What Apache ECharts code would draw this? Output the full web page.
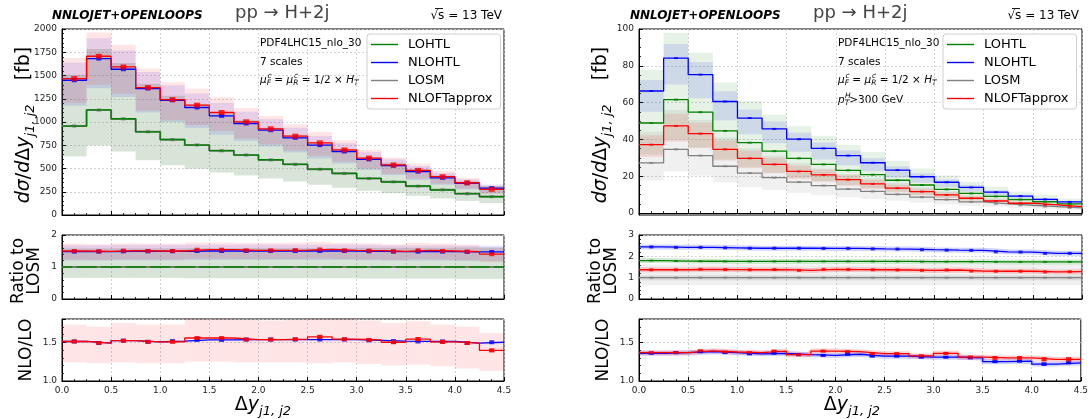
<!DOCTYPE html>
<html><head><meta charset="utf-8">
<script src="https://cdn.jsdelivr.net/npm/echarts@6/dist/echarts.min.js"></script>
<style>html,body{margin:0;padding:0;background:#fff}#c{width:1091px;height:419px}</style>
</head><body><div id="c"></div>
<script>
// ---------------- data ----------------
const binEdges = [0,0.25,0.5,0.75,1.0,1.25,1.5,1.75,2.0,2.25,2.5,2.75,3.0,3.25,3.5,3.75,4.0,4.25,4.5];
const xTickLabels = ['0.0','0.5','1.0','1.5','2.0','2.5','3.0','3.5','4.0','4.5'];
const seriesNames = ['LOHTL','NLOHTL','LOSM','NLOFTapprox'];

// Left panel (inclusive), dsigma/dDy [fb]
const L_LOHTL      = [955,1130,1035,893,812,752,692,644,594,544,494,446,394,355,312,269,230,196];
const L_LOSM       = [958,1128,1033,895,810,754,690,646,592,546,492,448,392,357,310,271,228,198];
const L_NLOHTL     = [1449,1682,1567,1360,1234,1156,1066,984,912,830,751,683,598,530,466,400,341,290];
const L_NLOFT      = [1467,1707,1592,1370,1241,1181,1102,1002,927,848,776,700,612,538,480,412,347,276];
const L_LO_low     = [630,746,683,589,536,496,457,425,392,359,326,294,260,234,206,178,152,129];
const L_LO_high    = [1509,1785,1635,1411,1283,1188,1093,1018,939,860,781,705,623,561,493,425,363,310];
const L_NLOHTL_low = [1174,1362,1269,1102,1000,936,863,797,739,672,608,553,484,429,377,324,276,235];
const L_NLOHTL_high= [1637,1901,1771,1537,1394,1306,1205,1112,1031,938,849,772,676,599,527,452,385,328];
const L_NLOFT_low  = [1203,1400,1305,1123,1018,968,904,822,760,695,636,574,502,441,394,338,285,226];
const L_NLOFT_high = [1687,1963,1831,1576,1427,1358,1267,1152,1066,975,892,805,704,619,552,474,399,317];
// Left ratio to LOSM
const L_r_LOHTL  = [1,1,1,1,1,1,1,1,1,1,1,1,1,1,1,1,1,1];
const L_r_LOSM   = [1,1,1,1,1,1,1,1,1,1,1,1,1,1,1,1,1,1];
const L_r_NLOHTL = [1.48,1.48,1.49,1.49,1.49,1.50,1.50,1.50,1.50,1.50,1.50,1.50,1.49,1.48,1.48,1.48,1.47,1.47];
const L_r_NLOFT  = [1.50,1.49,1.51,1.50,1.50,1.54,1.54,1.52,1.52,1.53,1.55,1.52,1.51,1.49,1.52,1.50,1.48,1.40];
const L_r_LO_low     = [0.66,0.66,0.66,0.66,0.66,0.65,0.65,0.65,0.65,0.65,0.65,0.65,0.64,0.64,0.64,0.64,0.63,0.63];
const L_r_LO_high    = [1.58,1.58,1.58,1.58,1.58,1.59,1.59,1.59,1.59,1.59,1.59,1.59,1.60,1.60,1.60,1.60,1.61,1.61];
const L_r_NLOHTL_low = [1.20,1.20,1.21,1.21,1.21,1.22,1.22,1.22,1.22,1.22,1.22,1.22,1.21,1.20,1.20,1.20,1.19,1.19];
const L_r_NLOHTL_high= [1.68,1.68,1.69,1.69,1.69,1.70,1.70,1.70,1.70,1.70,1.70,1.70,1.69,1.68,1.68,1.68,1.67,1.67];
const L_r_NLOFT_low  = [1.23,1.22,1.24,1.23,1.23,1.26,1.26,1.25,1.25,1.25,1.27,1.25,1.24,1.22,1.25,1.23,1.21,1.15];
const L_r_NLOFT_high = [1.73,1.71,1.74,1.73,1.73,1.77,1.77,1.75,1.75,1.76,1.78,1.75,1.74,1.71,1.75,1.73,1.70,1.61];
// Left NLO/LO
const L_k_NLOHTL = [1.51,1.49,1.52,1.505,1.515,1.53,1.53,1.535,1.535,1.535,1.535,1.535,1.525,1.515,1.51,1.51,1.49,1.50];
const L_k_NLOFT  = [1.51,1.49,1.52,1.505,1.505,1.555,1.555,1.535,1.535,1.54,1.57,1.54,1.53,1.50,1.54,1.505,1.49,1.395];
const L_k_NLOFT_err  = [0.006,0.005,0.006,0.005,0.008,0.008,0.008,0.006,0.006,0.006,0.014,0.006,0.008,0.016,0.02,0.018,0.016,0.016];
const L_k_band_low   = [1.24,1.23,1.24,1.23,1.23,1.25,1.25,1.24,1.24,1.24,1.23,1.24,1.22,1.20,1.21,1.19,1.16,1.13];
const L_k_band_high  = [1.73,1.70,1.75,1.73,1.73,1.80,1.80,1.79,1.78,1.79,1.80,1.80,1.78,1.75,1.77,1.73,1.70,1.62];

// Right panel (pT^H > 300 GeV)
const R_LOHTL      = [48.9,61.6,54.8,44.6,38.2,33.6,29.7,26.4,23.2,20.8,17.8,15.2,12.8,10.6,9.0,7.3,6.1,4.9];
const R_LOSM       = [27.2,34.6,31.2,25.4,21.7,19.2,16.8,14.9,13.0,11.7,10.1,8.6,7.3,6.0,5.0,4.2,3.5,2.8];
const R_NLOHTL     = [66.3,84.2,75.2,60.6,51.6,45.7,40.1,35.1,31.2,27.3,23.3,19.7,16.7,13.9,11.3,9.2,7.4,6.0];
const R_NLOFT      = [37.1,47.3,43.1,34.6,29.7,26.4,22.6,20.7,18.1,15.8,13.5,11.6,9.8,8.0,6.5,5.3,4.4,3.5];
const R_LOHTL_low  = [31.8,40.0,35.6,29.0,24.8,21.8,19.3,17.2,15.1,13.5,11.6,9.9,8.3,6.9,5.9,4.7,4.0,3.2];
const R_LOHTL_high = [77.8,97.9,87.1,70.9,60.7,53.4,47.2,42.0,36.9,33.1,28.3,24.2,20.4,16.9,14.3,11.6,9.7,7.8];
const R_LOSM_low   = [17.7,22.5,20.3,16.5,14.1,12.5,10.9,9.7,8.5,7.6,6.6,5.6,4.7,3.9,3.3,2.7,2.3,1.8];
const R_LOSM_high  = [44.1,56.1,50.5,41.1,35.2,31.1,27.2,24.1,21.1,19.0,16.4,13.9,11.8,9.7,8.1,6.8,5.7,4.5];
const R_NLOHTL_low = [55.0,69.9,62.4,50.3,42.8,37.9,33.3,29.1,25.9,22.7,19.3,16.4,13.9,11.5,9.4,7.6,6.1,5.0];
const R_NLOHTL_high= [72.3,91.8,82.0,66.1,56.2,49.8,43.7,38.3,34.0,29.8,25.4,21.5,18.2,15.2,12.3,10.0,8.1,6.5];
const R_NLOFT_low  = [30.4,38.8,35.3,28.4,24.4,21.6,18.5,17.0,14.8,13.0,11.1,9.5,8.0,6.6,5.3,4.3,3.6,2.9];
const R_NLOFT_high = [42.3,53.9,49.1,39.4,33.9,30.1,25.8,23.6,20.6,18.0,15.4,13.2,11.2,9.1,7.4,6.0,5.0,4.0];
// Right ratio to LOSM
const R_r_LOHTL  = [1.80,1.78,1.77,1.76,1.76,1.76,1.76,1.76,1.76,1.76,1.76,1.75,1.75,1.75,1.74,1.74,1.74,1.74];
const R_r_LOSM   = [1,1,1,1,1,1,1,1,1,1,1,1,1,1,1,1,1,1];
const R_r_NLOHTL = [2.44,2.42,2.42,2.40,2.38,2.38,2.38,2.37,2.37,2.35,2.34,2.31,2.29,2.28,2.21,2.20,2.14,2.14];
const R_r_NLOFT  = [1.37,1.37,1.39,1.38,1.37,1.38,1.34,1.39,1.38,1.37,1.36,1.34,1.36,1.31,1.30,1.30,1.27,1.28];
const R_r_LOSM_low  = [0.64,0.64,0.64,0.64,0.64,0.64,0.64,0.64,0.64,0.64,0.64,0.64,0.64,0.64,0.64,0.64,0.64,0.64];
const R_r_LOSM_high = [1.62,1.62,1.62,1.62,1.62,1.62,1.62,1.62,1.62,1.62,1.62,1.62,1.62,1.62,1.62,1.62,1.62,1.62];
// Right NLO/LO
const R_k_NLOHTL = [1.357,1.366,1.378,1.366,1.35,1.357,1.34,1.33,1.345,1.32,1.32,1.307,1.307,1.298,1.25,1.256,1.218,1.235];
const R_k_NLOFT  = [1.366,1.366,1.39,1.374,1.366,1.386,1.34,1.386,1.378,1.353,1.353,1.324,1.357,1.307,1.298,1.298,1.28,1.28];
const R_k_NLOFT_err  = [0.006,0.005,0.006,0.006,0.006,0.006,0.006,0.008,0.008,0.01,0.008,0.01,0.01,0.012,0.016,0.016,0.02,0.02];
const R_k_NLOHTL_err = [0.004,0.004,0.004,0.004,0.004,0.004,0.005,0.005,0.005,0.005,0.006,0.006,0.006,0.007,0.008,0.008,0.014,0.01];

// ---------------- styling ----------------
const FONT = 'DejaVu Sans';
const C = {green:'#008000', blue:'#0000ff', gray:'#808080', red:'#ff0000'};
const BAND = {green:'rgba(0,128,0,0.10)', blue:'rgba(0,0,255,0.10)', gray:'rgba(128,128,128,0.12)', red:'rgba(255,0,0,0.10)'};
const centers = binEdges.slice(0,-1).map((e,i)=>(e+binEdges[i+1])/2);

function stepPts(v){ const p=v.map((y,i)=>[binEdges[i],y]); p.push([binEdges[binEdges.length-1], v[v.length-1]]); return p; }

const series = [];
function addLine(g, name, vals, color, z, width){
  series.push({type:'line', name:name, xAxisIndex:g, yAxisIndex:g, data:stepPts(vals), step:'end',
    symbol:'none', showSymbol:false, lineStyle:{color:color,width:width||1.3}, itemStyle:{color:color},
    z:z, silent:true, animation:false, clip:true});
}
function addHalo(g, vals, color){
  series.push({type:'line', name:'halo'+series.length, xAxisIndex:g, yAxisIndex:g, data:stepPts(vals), step:'end',
    symbol:'none', lineStyle:{color:color,width:5,opacity:0.18}, z:2, silent:true, animation:false});
}
function addMarks(g, vals, color, w, h){
  series.push({type:'scatter', name:'m'+series.length, xAxisIndex:g, yAxisIndex:g,
    data:vals.map((v,i)=>[centers[i],v]), symbol:'rect', symbolSize:[w||5,h||3],
    itemStyle:{color:color}, z:5, silent:true, animation:false});
}
function addBand(g, low, high, fill){
  series.push({type:'custom', name:'b'+series.length, xAxisIndex:g, yAxisIndex:g,
    data:low.map((l,i)=>[binEdges[i],binEdges[i+1],l,high[i]]),
    encode:{x:[0,1],y:[2,3]}, z:1, silent:true, animation:false,
    renderItem:function(params, api){
      const a=api.coord([api.value(0), api.value(3)]);
      const b=api.coord([api.value(1), api.value(2)]);
      const cs=params.coordSys;
      let x0=Math.max(Math.min(a[0],b[0]),cs.x), x1=Math.min(Math.max(a[0],b[0]),cs.x+cs.width);
      let y0=Math.max(Math.min(a[1],b[1]),cs.y), y1=Math.min(Math.max(a[1],b[1]),cs.y+cs.height);
      if(x1<=x0||y1<=y0) return null;
      return {type:'rect', shape:{x:x0,y:y0,width:x1-x0,height:y1-y0}, style:{fill:fill}};
    }});
}
function addErr(g, vals, errs, color){
  series.push({type:'custom', name:'e'+series.length, xAxisIndex:g, yAxisIndex:g,
    data:vals.map((v,i)=>[centers[i], v-errs[i], v+errs[i]]),
    encode:{x:0,y:[1,2]}, z:6, silent:true, animation:false,
    renderItem:function(params, api){
      const lo=api.coord([api.value(0), api.value(1)]);
      const hi=api.coord([api.value(0), api.value(2)]);
      const st={stroke:color, lineWidth:1};
      return {type:'group', children:[
        {type:'line', shape:{x1:lo[0],y1:lo[1],x2:hi[0],y2:hi[1]}, style:st},
        {type:'line', shape:{x1:lo[0]-2.5,y1:lo[1],x2:lo[0]+2.5,y2:lo[1]}, style:st},
        {type:'line', shape:{x1:hi[0]-2.5,y1:hi[1],x2:hi[0]+2.5,y2:hi[1]}, style:st}
      ]};
    }});
}

// ---- Left top (grid 0)
addBand(0, L_LO_low, L_LO_high, BAND.gray);
addBand(0, L_LO_low, L_LO_high, BAND.green);
addBand(0, L_NLOHTL_low, L_NLOHTL_high, BAND.blue);
addBand(0, L_NLOFT_low, L_NLOFT_high, BAND.red);
addLine(0, 'LOSM', L_LOSM, C.gray, 3, 2);
addLine(0, 'LOHTL', L_LOHTL, C.green, 3);
addLine(0, 'NLOHTL', L_NLOHTL, C.blue, 3);
addLine(0, 'NLOFTapprox', L_NLOFT, C.red, 4);
addMarks(0, L_LOSM, C.gray, 5, 3); addMarks(0, L_LOHTL, C.green, 4, 2);
addMarks(0, L_NLOHTL, C.blue, 5, 4); addMarks(0, L_NLOFT, C.red, 6, 5);
// ---- Left ratio (grid 1)
addBand(1, L_r_LO_low, L_r_LO_high, BAND.gray);
addBand(1, L_r_LO_low, L_r_LO_high, BAND.green);
addBand(1, L_r_NLOHTL_low, L_r_NLOHTL_high, BAND.blue);
addBand(1, L_r_NLOFT_low, L_r_NLOFT_high, BAND.red);
addLine(1, 'LOSM_r', L_r_LOSM, C.gray, 3, 2);
addLine(1, 'LOHTL_r', L_r_LOHTL, C.green, 3);
addLine(1, 'NLOHTL_r', L_r_NLOHTL, C.blue, 3);
addLine(1, 'NLOFT_r', L_r_NLOFT, C.red, 4);
addMarks(1, L_r_NLOHTL, C.blue, 5, 4); addMarks(1, L_r_NLOFT, C.red, 5, 4);
addMarks(1, L_r_LOSM, C.gray, 4, 2);
// ---- Left NLO/LO (grid 2)
addBand(2, L_k_band_low, L_k_band_high, BAND.red);
addLine(2, 'NLOHTL_k', L_k_NLOHTL, C.blue, 3);
addLine(2, 'NLOFT_k', L_k_NLOFT, C.red, 4);
addMarks(2, L_k_NLOHTL, C.blue, 5, 4); addMarks(2, L_k_NLOFT, C.red, 5, 4);
addErr(2, L_k_NLOFT, L_k_NLOFT_err, C.red);
// ---- Right top (grid 3)
addBand(3, R_LOSM_low, R_LOSM_high, BAND.gray);
addBand(3, R_LOHTL_low, R_LOHTL_high, BAND.green);
addBand(3, R_NLOHTL_low, R_NLOHTL_high, BAND.blue);
addBand(3, R_NLOFT_low, R_NLOFT_high, BAND.red);
addLine(3, 'LOSM_R', R_LOSM, C.gray, 3);
addLine(3, 'LOHTL_R', R_LOHTL, C.green, 3);
addLine(3, 'NLOHTL_R', R_NLOHTL, C.blue, 3);
addLine(3, 'NLOFT_R', R_NLOFT, C.red, 4);
addMarks(3, R_LOSM, C.gray, 4, 2); addMarks(3, R_LOHTL, C.green, 4, 2);
addMarks(3, R_NLOHTL, C.blue, 4, 2); addMarks(3, R_NLOFT, C.red, 4, 2);
// ---- Right ratio (grid 4)
addBand(4, R_r_LOSM_low, R_r_LOSM_high, BAND.gray);
addHalo(4, R_r_LOHTL, C.green); addHalo(4, R_r_NLOHTL, C.blue); addHalo(4, R_r_NLOFT, C.red); addHalo(4, R_r_LOSM, C.gray);
addLine(4, 'LOSM_Rr', R_r_LOSM, C.gray, 3);
addLine(4, 'LOHTL_Rr', R_r_LOHTL, C.green, 3);
addLine(4, 'NLOHTL_Rr', R_r_NLOHTL, C.blue, 3);
addLine(4, 'NLOFT_Rr', R_r_NLOFT, C.red, 4);
addMarks(4, R_r_LOSM, C.gray, 4, 2); addMarks(4, R_r_LOHTL, C.green, 4, 2);
addMarks(4, R_r_NLOHTL, C.blue, 4, 3); addMarks(4, R_r_NLOFT, C.red, 4, 3);
// ---- Right NLO/LO (grid 5)
addHalo(5, R_k_NLOHTL, C.blue); addHalo(5, R_k_NLOFT, C.red);
addLine(5, 'NLOHTL_Rk', R_k_NLOHTL, C.blue, 3);
addLine(5, 'NLOFT_Rk', R_k_NLOFT, C.red, 4);
addMarks(5, R_k_NLOHTL, C.blue, 5, 3); addMarks(5, R_k_NLOFT, C.red, 5, 3);
addErr(5, R_k_NLOHTL, R_k_NLOHTL_err, C.blue);
addErr(5, R_k_NLOFT, R_k_NLOFT_err, C.red);

// ---------------- layout ----------------
const LX = 62, LW = 442, RX = 639, RW = 443;
const rows = [{top:29,h:186},{top:235,h:64},{top:319,h:62}];
const grids = [];
[ [LX,LW], [RX,RW] ].forEach(([x,w])=>rows.forEach(r=>grids.push({left:x, top:r.top, width:w, height:r.h,
  show:true, borderColor:'#000', borderWidth:1, backgroundColor:'transparent', containLabel:false})));

const tickStyle = {inside:true, length:4, lineStyle:{color:'#000', width:1}};
const minorStyle = (n)=>({show:true, splitNumber:n, length:2, lineStyle:{color:'#000', width:0.8}});
const splitStyle = {show:true, lineStyle:{color:'#c8c8c8', width:0.8, type:[2,2]}};
const labelStyle = {fontSize:9, color:'#222', fontFamily:FONT, margin:5, formatter:(v)=>String(v)};

const xAxes = grids.map((g,i)=>({gridIndex:i, type:'value', min:0, max:4.5, interval:0.5,
  axisLine:{show:true, lineStyle:{color:'#000'}}, axisTick:tickStyle, minorTick:minorStyle(4),
  splitLine:splitStyle,
  axisLabel: (i%3===2) ? Object.assign({}, labelStyle, {formatter:(v)=>xTickLabels[Math.round(v/0.5)]}) : {show:false}}));

function yAx(i, opt){ return Object.assign({gridIndex:i, type:'value',
  axisLine:{show:true, lineStyle:{color:'#000'}}, axisTick:tickStyle, splitLine:splitStyle,
  axisLabel:Object.assign({}, labelStyle)}, opt); }
const yAxes = [
  yAx(0,{min:0,max:2000,interval:250, minorTick:minorStyle(5)}),
  yAx(1,{min:0,max:2,interval:1, minorTick:minorStyle(5)}),
  yAx(2,{min:1.0,max:1.8,interval:0.5, minorTick:minorStyle(5),
        axisLabel:Object.assign({}, labelStyle, {showMaxLabel:false, formatter:(v)=>v.toFixed(1)})}),
  yAx(3,{min:-1.1,max:100, minorTick:minorStyle(4),
        axisTick:Object.assign({}, tickStyle, {customValues:[0,20,40,60,80,100]}),
        axisLabel:Object.assign({}, labelStyle, {customValues:[0,20,40,60,80,100]})}),
  yAx(4,{min:0,max:3,interval:1, minorTick:minorStyle(5)}),
  yAx(5,{min:1.0,max:1.8,interval:0.5, minorTick:minorStyle(5),
        axisLabel:Object.assign({}, labelStyle, {showMaxLabel:false, formatter:(v)=>v.toFixed(1)})})
];

function legendAt(left){ return {left:left, top:34, orient:'vertical', data:seriesNames, selectedMode:false,
  icon:'path://M0,0 L27,0 L27,1.4 L0,1.4 Z',
  itemWidth:27, itemHeight:14, itemGap:5, padding:[4,8,4,4], backgroundColor:'#fff',
  borderColor:'#cfcfcf', borderWidth:1, borderRadius:3,
  textStyle:{fontSize:13, fontFamily:FONT, color:'#000', padding:[0,0,0,5]}}; }

// ---------------- text ----------------
const mathRich = {
  m:{fontSize:19, fontStyle:'italic', fontFamily:FONT, fill:'#000', lineHeight:26, verticalAlign:'middle'},
  u:{fontSize:19, fontFamily:FONT, fill:'#000', lineHeight:26, verticalAlign:'middle'},
  s:{fontSize:13, fontStyle:'italic', fontFamily:FONT, fill:'#000', lineHeight:13, verticalAlign:'bottom'}
};
const smallRich = {
  t:{fontSize:10.5, fontFamily:FONT, fill:'#000', lineHeight:14, verticalAlign:'middle'},
  m:{fontSize:10.5, fontStyle:'italic', fontFamily:FONT, fill:'#000', lineHeight:14, verticalAlign:'middle'},
  s:{fontSize:7.5, fontStyle:'italic', fontFamily:FONT, fill:'#000', lineHeight:8, verticalAlign:'bottom'}
};
function txt(x,y,text,font,align,fill){ return {type:'text', x:x, y:y, silent:true,
  style:{text:text, font:font, fill:fill||'#000', align:align||'left', verticalAlign:'middle'}}; }
function rtxt(x,y,text,rich,align,rot){ return {type:'text', x:x, y:y, rotation:rot||0, silent:true,
  style:{text:text, rich:rich, align:align||'center', verticalAlign:'middle'}}; }

const graphics = [];
[[0,0],[1,577]].forEach(([k,dx])=>{
  graphics.push(txt(52+dx+(k?1:0),16,'NNLOJET+OPENLOOPS','italic bold 12px "DejaVu Sans"','left'));
  graphics.push(txt((k?813:235),13,'pp \u2192 H+2j','18px "DejaVu Sans"','left','#444'));
  const sx = k?1079:502;
  graphics.push(txt(sx,16,'\u221As = 13 TeV','12px "DejaVu Sans"','right'));
  graphics.push({type:'line', silent:true, shape:{x1:sx-67,y1:8.5,x2:sx-59,y2:8.5}, style:{stroke:'#000',lineWidth:0.9}});
  // axis titles
  graphics.push(rtxt(24+dx,125,'{m|d\u03C3}{u|/}{m|d}{u|\u0394}{m|y}{s|j1, j2}{u|    [fb]}',mathRich,'center',Math.PI/2));
  graphics.push({type:'text', x:27+dx, y:271, rotation:Math.PI/2, silent:true,
     style:{text:'Ratio to\nLOSM', font:'17px "DejaVu Sans"', fill:'#000', align:'center', verticalAlign:'middle', lineHeight:16}});
  graphics.push({type:'text', x:27+dx, y:350, rotation:Math.PI/2, silent:true,
     style:{text:'NLO/LO', font:'17px "DejaVu Sans"', fill:'#000', align:'center', verticalAlign:'middle'}});
  graphics.push(rtxt((k?852:263),405,'{u|\u0394}{m|y}{s|j1, j2}',mathRich,'center',0));
});
// annotations
function annot(x, withPt){
  graphics.push(txt(x,43,'PDF4LHC15_nlo_30','10.5px "DejaVu Sans"','left'));
  graphics.push(txt(x,62,'7 scales','10.5px "DejaVu Sans"','left'));
  graphics.push(rtxt(x,80,'{m|\u03BC}{s|F}{t| = }{m|\u03BC}{s|R}{t| = 1/2 \u00D7 }{m|H}{s|T}',smallRich,'left',0));
  graphics.push(txt(x+7.5,76,'c','italic 7.5px "DejaVu Sans"','left'));
  graphics.push(txt(x+34,76,'c','italic 7.5px "DejaVu Sans"','left'));
  if(withPt){
    graphics.push(rtxt(x,100,'{m|p}{s|T}{t|>300 GeV}',smallRich,'left',0));
    graphics.push(txt(x+7,96,'H','italic 7.5px "DejaVu Sans"','left'));
  }
}
annot(260,false); annot(838,true);

const chart = echarts.init(document.getElementById('c'), null, {renderer:'canvas'});
chart.setOption({
  animation:false, backgroundColor:'#fff',
  textStyle:{fontFamily:FONT},
  grid:grids, xAxis:xAxes, yAxis:yAxes,
  legend:[legendAt(367), legendAt(943)],
  series:series, graphic:graphics
});
</script></body></html>
